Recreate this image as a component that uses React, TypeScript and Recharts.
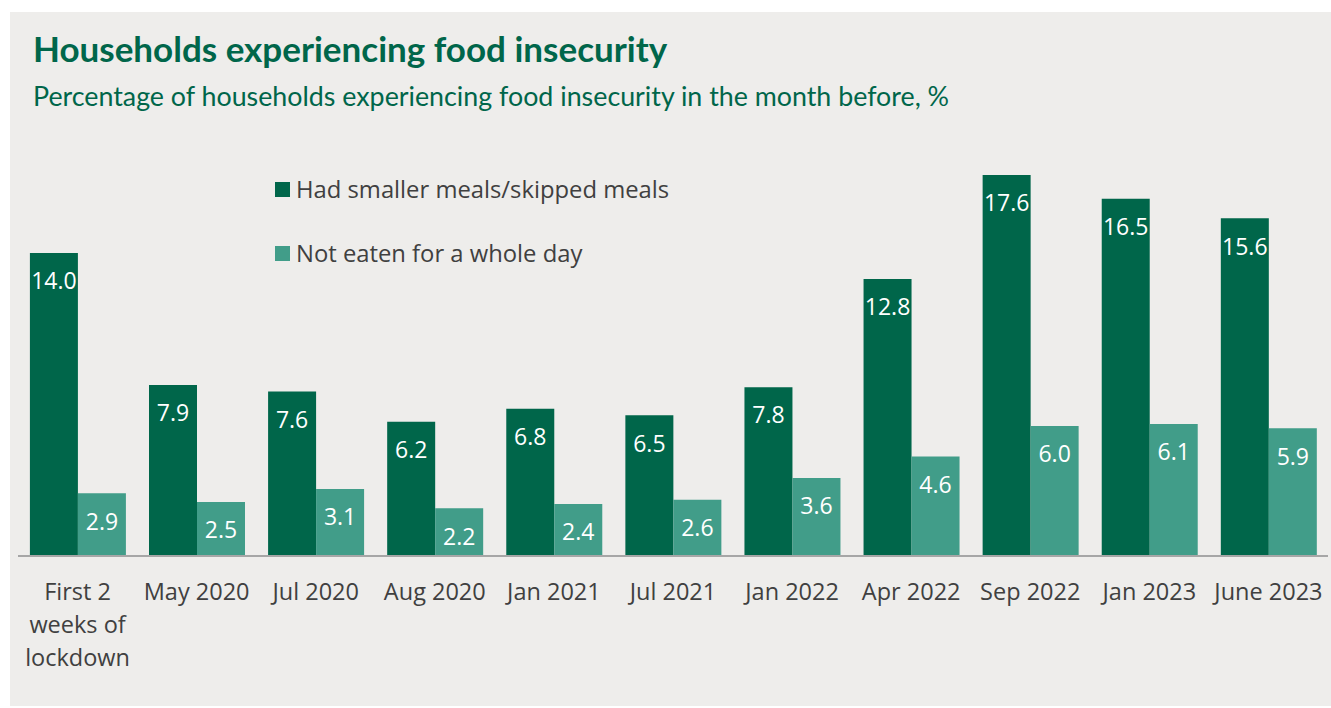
import { BarChart, Bar, XAxis, YAxis, LabelList } from 'recharts';

const categories = [
  'First 2 weeks of lockdown',
  'May 2020',
  'Jul 2020',
  'Aug 2020',
  'Jan 2021',
  'Jul 2021',
  'Jan 2022',
  'Apr 2022',
  'Sep 2022',
  'Jan 2023',
  'June 2023',
];
const smallerMeals = [14.0, 7.9, 7.6, 6.2, 6.8, 6.5, 7.8, 12.8, 17.6, 16.5, 15.6];
const notEaten = [2.9, 2.5, 3.1, 2.2, 2.4, 2.6, 3.6, 4.6, 6.0, 6.1, 5.9];

const seriesNames = ['Had smaller meals/skipped meals', 'Not eaten for a whole day'];

const DARK = '#00664a';
const LIGHT = '#419d89';
const BG = '#eeedeb';
const FONT = '"Open Sans", sans-serif';

const data = categories.map((c, i) => ({
  name: c,
  smaller: smallerMeals[i],
  notEaten: notEaten[i],
}));

const wrapLabel = (s: string) => {
  if (s.length <= 12) return [s];
  const words = s.split(' ');
  const lines: string[] = [];
  let cur = '';
  words.forEach((w) => {
    const next = cur ? cur + ' ' + w : w;
    if (next.length > 9 && cur) {
      lines.push(cur);
      cur = w;
    } else cur = next;
  });
  if (cur) lines.push(cur);
  return lines;
};

const CategoryTick = ({ x, y, payload }: any) => {
  const lines = wrapLabel(payload.value);
  return (
    <text x={x} y={y} textAnchor="middle" fill="#404040" fontSize={23.5} fontFamily={FONT}>
      {lines.map((l, i) => (
        <tspan key={i} x={x} y={y + 36 + i * 33}>
          {l}
        </tspan>
      ))}
    </text>
  );
};

export default function App() {
  return (
    <div
      style={{
        position: 'absolute',
        left: 10,
        top: 12,
        width: 1321,
        height: 694,
        background: BG,
        overflow: 'hidden',
      }}
    >
      <div
        style={{
          position: 'absolute',
          left: 23,
          top: 15,
          fontFamily: 'Lato, sans-serif',
          fontWeight: 700,
          fontSize: 35,
          color: DARK,
          whiteSpace: 'nowrap',
        }}
      >
        Households experiencing food insecurity
      </div>
      <div
        style={{
          position: 'absolute',
          left: 23,
          top: 68,
          fontFamily: 'Lato, sans-serif',
          fontSize: 26.8,
          color: DARK,
          whiteSpace: 'nowrap',
        }}
      >
        Percentage of households experiencing food insecurity in the month before, %
      </div>
      <div style={{ position: 'absolute', left: 0, top: 0 }}>
        <BarChart
          width={1321}
          height={694}
          data={data}
          margin={{ top: 111, right: 3, left: 8, bottom: 10 }}
          barCategoryGap="10%"
          barGap={0}
        >
          <XAxis
            dataKey="name"
            interval={0}
            height={140}
            tickLine={false}
            axisLine={{ stroke: '#a6a6a6', strokeWidth: 2 }}
            tick={<CategoryTick />}
          />
          <YAxis hide domain={[0, 20]} />
          <Bar dataKey="smaller" name={seriesNames[0]} fill={DARK} isAnimationActive={false}>
            <LabelList
              dataKey="smaller"
              position="insideTop"
              offset={20}
              fill="#ffffff"
              fontSize={23}
              fontFamily={FONT}
              formatter={(v: any) => Number(v).toFixed(1)}
            />
          </Bar>
          <Bar dataKey="notEaten" name={seriesNames[1]} fill={LIGHT} isAnimationActive={false}>
            <LabelList
              dataKey="notEaten"
              position="insideTop"
              offset={20}
              fill="#ffffff"
              fontSize={23}
              fontFamily={FONT}
              formatter={(v: any) => Number(v).toFixed(1)}
            />
          </Bar>
        </BarChart>
      </div>
      <div
        style={{
          position: 'absolute',
          left: 265,
          top: 161,
          fontFamily: FONT,
          fontSize: 23.8,
          color: '#404040',
        }}
      >
        {seriesNames.map((n, i) => (
          <div key={n} style={{ display: 'flex', alignItems: 'center', height: 32, marginBottom: 32, whiteSpace: 'nowrap' }}>
            <span
              style={{
                display: 'inline-block',
                width: 15,
                height: 15,
                background: i === 0 ? DARK : LIGHT,
                marginRight: 6,
              }}
            />
            <span>{n}</span>
          </div>
        ))}
      </div>
    </div>
  );
}
